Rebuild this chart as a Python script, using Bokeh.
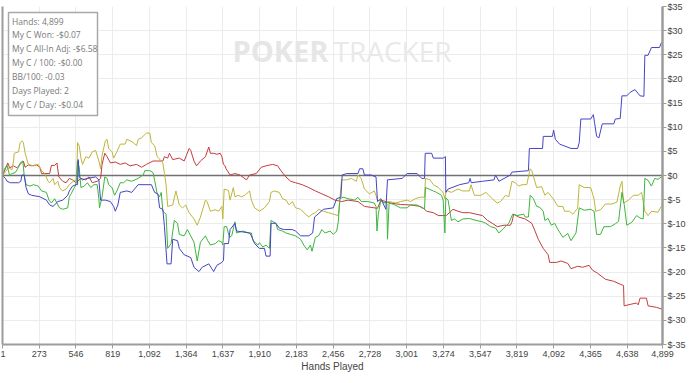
from bokeh.plotting import figure
from bokeh.models import Range1d, FixedTicker, LinearAxis, Span, BoxAnnotation, Label
from bokeh.embed import file_html
from bokeh.resources import INLINE

# ---------------- data ----------------
x_ticks = [1, 273, 546, 819, 1092, 1364, 1637, 1910, 2183, 2456, 2728, 3001,
           3274, 3547, 3819, 4092, 4365, 4638, 4899]
x_tick_labels = ["1", "273", "546", "819", "1,092", "1,364", "1,637", "1,910",
                 "2,183", "2,456", "2,728", "3,001", "3,274", "3,547", "3,819",
                 "4,092", "4,365", "4,638", "4,899"]
y_ticks = [-35, -30, -25, -20, -15, -10, -5, 0, 5, 10, 15, 20, 25, 30, 35]
y_tick_labels = ["$-35", "$-30", "$-25", "$-20", "$-15", "$-10", "$-5", "$0",
                 "$5", "$10", "$15", "$20", "$25", "$30", "$35"]

stats_lines = ["Hands: 4,899", "My C Won: -$0.07", "My C All-In Adj: -$6.58",
               "My C / 100: -$0.00", "BB/100: -0.03", "Days Played: 2",
               "My C / Day: -$0.04"]

# blue series
showdown_hands = [1,23,35,59,120,137,145,162,176,193,
    218,278,327,351,376,412,448,485,497,521,
    546,558,563,570,595,631,692,716,729,765,
    802,826,838,857,875,923,960,1008,1106,1130,
    1154,1167,1191,1203,1222,1252,1264,1300,1313,1349,
    1398,1422,1459,1483,1532,1568,1592,1629,1641,1646,
    1678,1690,1726,1738,1835,1848,1872,1908,1945,1957,
    1987,1994,2030,2055,2091,2152,2176,2213,2274,2303,
    2317,2383,2456,2481,2512,2522,2554,2639,2651,2675,
    2687,2736,2773,2784,2809,2846,2858,2967,3004,3077,
    3113,3133,3138,3186,3198,3271,3288,3291,3308,3393,
    3461,3471,3480,3563,3649,3660,3685,3770,3782,3904,
    3911,4009,4014,4082,4091,4104,4135,4220,4269,4281,
    4293,4366,4386,4396,4410,4427,4452,4537,4549,4585,
    4598,4634,4658,4695,4732,4761,4768,4792,4817,4877,
    4890,4899]
showdown_won = [0,-0.6,-1.2,-1.5,-1.5,-1.2,0.1,0.1,-2.5,-3.8,
    -4.1,-4.4,-5.1,-6.1,-6.4,-5.4,-5.1,-4.1,-3.2,-2.2,
    -1.9,-1.9,3.3,-0.3,-0.9,-0.6,-0.3,-0.9,-5.1,-5.1,
    -5.4,-6.4,-7.4,-6.1,-3.5,-3.2,-3.5,-1.9,-1.9,-3.5,
    -3.8,-6.7,-7.0,-10.6,-18.3,-18.3,-13.2,-13.5,-15.1,-16.4,
    -17.0,-19.0,-19.9,-19.0,-18.3,-19.9,-18.6,-18.0,-17.6,-14.1,
    -14.1,-11.2,-9.9,-11.5,-11.9,-12.5,-14.1,-15.1,-15.1,-16.7,
    -16.7,-9.9,-9.9,-10.9,-11.2,-11.2,-11.5,-12.5,-12.5,-11.9,
    -8.6,-7.0,-6.7,-4.8,-4.5,0.1,0.4,0.4,1.4,1.4,
    0.1,0.1,-0.3,-5.4,-4.8,-7.0,-0.9,-0.6,0.4,0.4,
    -0.6,-0.6,4.6,4.6,3.6,3.6,3.9,-3.5,-2.8,-1.9,
    -1.5,-0.6,-1.5,-1.2,-0.9,0.1,-1.2,0.1,0.7,1.0,
    5.6,5.6,8.1,8.1,9.4,7.5,6.5,5.6,5.6,6.8,
    11.7,11.7,12.6,10.7,8.1,7.8,10.7,10.7,11.7,11.8,
    16.5,16.5,17.2,17.8,16.5,16.4,24.9,24.9,26.5,26.5,
    27.5,27.6]

# red series
nonshowdown_hands = [1,23,40,54,83,108,132,156,169,193,
    218,254,278,291,351,364,388,405,419,448,
    473,497,521,546,583,619,643,667,704,729,
    740,760,777,802,838,875,911,948,996,1033,
    1069,1118,1154,1191,1203,1227,1240,1264,1313,1349,
    1386,1398,1422,1441,1470,1507,1532,1544,1568,1592,
    1617,1629,1641,1653,1660,1690,1726,1763,1812,1835,
    1884,1921,1957,2006,2043,2067,2104,2140,2176,2225,
    2274,2323,2371,2420,2468,2517,2566,2639,2687,2736,
    2784,2809,2846,2882,2955,3028,3101,3125,3149,3198,
    3235,3295,3344,3381,3417,3466,3515,3563,3600,3636,
    3673,3722,3770,3782,3795,3831,3880,3929,3953,3977,
    4014,4050,4062,4111,4147,4196,4220,4269,4306,4354,
    4379,4415,4476,4536,4585,4610,4614,4658,4707,4719,
    4732,4780,4792,4853,4899]
nonshowdown_won = [0,1.4,2.6,1.6,2.0,1.6,2.3,3.0,1.7,2.2,
    2.0,2.2,1.7,0.4,0.4,2.1,2.1,2.6,-0.3,-1.2,
    -1.5,-0.6,-0.9,-1.5,-0.6,-0.9,-0.3,-1.5,-1.2,-0.6,
    2.3,4.6,3.9,2.6,2.8,2.3,2.6,2.0,2.3,1.7,
    2.3,3.0,3.0,3.0,3.9,3.6,4.6,3.3,3.6,3.0,
    5.6,5.2,3.0,2.0,3.0,3.9,5.9,4.6,4.6,4.4,
    4.6,3.9,2.3,2.0,1.4,0.1,0.4,0.1,-0.9,0.1,
    0.4,1.7,2.0,2.3,2.0,1.0,-0.3,-1.2,-1.5,-1.9,
    -2.5,-3.2,-3.8,-4.4,-5.1,-5.4,-5.1,-5.4,-6.4,-6.6,
    -6.8,-5.1,-5.4,-5.7,-6.0,-6.1,-6.4,-6.8,-7.4,-7.7,
    -8.3,-8.3,-7.0,-7.4,-7.7,-7.7,-8.0,-8.3,-9.3,-9.9,
    -10.6,-10.3,-10.3,-9.6,-8.0,-8.6,-9.0,-9.9,-11.5,-13.2,
    -15.1,-16.4,-18.0,-18.0,-17.7,-18.2,-19.3,-18.8,-19.0,-18.6,
    -19.6,-20.2,-21.5,-21.9,-22.5,-22.8,-27.0,-26.7,-26.4,-26.8,
    -25.4,-25.4,-27.0,-27.3,-27.7]

# green series
won_hands = [1,16,35,54,72,96,120,132,152,162,
    176,205,230,266,291,327,346,364,388,412,
    424,448,485,497,510,534,546,558,570,583,
    607,631,656,680,704,716,721,740,760,777,
    789,814,833,850,875,899,923,960,1008,1045,
    1057,1094,1118,1130,1149,1167,1179,1191,1215,1227,
    1252,1276,1300,1313,1349,1373,1398,1422,1446,1470,
    1507,1524,1544,1580,1605,1629,1636,1646,1665,1685,
    1702,1726,1738,1787,1824,1848,1860,1897,1908,1933,
    1957,1982,1994,2030,2043,2079,2104,2140,2176,2213,
    2237,2262,2286,2298,2323,2347,2371,2395,2432,2456,
    2481,2493,2505,2529,2566,2615,2639,2663,2712,2760,
    2773,2780,2790,2809,2833,2853,2858,2870,2906,2955,
    3004,3028,3077,3113,3133,3140,3174,3198,3222,3259,
    3271,3284,3291,3308,3332,3357,3381,3417,3466,3515,
    3563,3588,3624,3660,3685,3722,3758,3787,3819,3868,
    3880,3904,3917,3941,3965,3989,4014,4026,4050,4074,
    4099,4123,4160,4196,4220,4257,4281,4318,4366,4391,
    4410,4439,4464,4512,4549,4573,4598,4615,4634,4671,
    4707,4732,4756,4768,4792,4817,4841,4865,4890,4899]
won_vals = [0,1.4,2.1,0,0.4,0.6,1.7,2.6,3.0,0,
    -1.9,-2.2,-1.9,-2.2,-3.2,-3.5,-5.1,-5.7,-4.8,-6.1,
    -6.7,-7.0,-6.7,-4.4,-3.8,-2.5,-1.9,3.0,1.7,-2.5,
    -2.2,-1.5,-2.5,-1.9,-1.9,-4.8,-6.7,-4.4,-0.3,-0.6,
    -1.9,-2.5,-4.1,-3.2,-1.5,-1.5,-0.9,-1.2,-0.6,0.1,
    1.0,1.0,0.6,-1.0,-3.8,-4.4,-3.5,-7.4,-8.0,-15.1,
    -14.1,-9.3,-9.9,-12.2,-12.5,-11.2,-12.5,-13.8,-17.7,-13.8,
    -12.5,-13.5,-14.4,-14.1,-13.5,-13.8,-14.4,-10.6,-10.6,-12.8,
    -12.5,-9.6,-11.9,-11.5,-11.9,-11.9,-13.5,-14.4,-13.9,-14.8,
    -14.4,-15.1,-9.3,-9.9,-11.2,-11.5,-11.9,-12.2,-12.5,-13.2,
    -14.4,-15.4,-14.4,-15.7,-12.8,-12.5,-11.2,-11.9,-11.5,-12.2,
    -11.5,-9.6,-4.8,-4.5,-4.8,-5.1,-4.5,-5.4,-5.4,-5.7,
    -6.4,-11.5,-8.0,-5.1,-5.7,-5.4,-13.2,-5.7,-6.0,-6.7,
    -6.7,-6.1,-6.1,-6.7,-6.9,-2.5,-2.9,-3.2,-3.5,-4.1,
    -5.1,-11.9,-4.6,-5.1,-9.3,-9.0,-9.6,-9.0,-8.9,-9.3,
    -9.6,-9.9,-10.6,-10.9,-11.9,-10.9,-9.9,-8.0,-8.3,-8.0,
    -8.6,-8.6,-4.1,-4.8,-6.4,-6.6,-7.4,-9.3,-8.9,-10.3,
    -9.9,-11.2,-12.8,-12.0,-13.5,-11.9,-6.7,-7.2,-7.0,-7.4,
    -12.2,-12.2,-10.6,-10.6,-10.0,-9.5,-3.5,-6.0,-10.3,-9.7,
    -8.3,-8.8,-9.0,-0.6,-1.0,-2.2,-0.6,-0.8,-0.3,0]

# olive series
allin_hands = [1,23,47,72,83,88,120,132,145,156,
    169,193,230,266,291,315,339,351,376,388,
    412,424,448,473,497,534,552,558,570,583,
    595,619,643,667,692,716,729,740,765,777,
    789,814,826,850,875,911,923,948,972,996,
    1008,1033,1069,1094,1106,1130,1149,1179,1191,1203,
    1215,1227,1264,1288,1313,1337,1361,1386,1422,1446,
    1470,1507,1519,1544,1580,1605,1629,1636,1646,1678,
    1690,1714,1726,1751,1775,1799,1835,1848,1872,1908,
    1945,1982,1994,2018,2055,2079,2104,2128,2152,2176,
    2213,2249,2274,2298,2323,2347,2383,2420,2456,2493,
    2505,2517,2554,2590,2627,2639,2663,2687,2724,2760,
    2773,2784,2821,2846,2870,2919,2955,3004,3028,3065,
    3101,3133,3140,3174,3198,3235,3271,3284,3295,3332,
    3381,3417,3466,3478,3503,3551,3588,3636,3673,3697,
    3734,3758,3782,3807,3831,3856,3892,3917,3929,3965,
    4002,4026,4050,4087,4123,4160,4172,4209,4233,4269,
    4281,4318,4366,4391,4403,4439,4476,4525,4561,4585,
    4598,4610,4646,4683,4719,4744,4768,4792,4817,4865,
    4890,4899]
allin_vals = [0,0.8,1.6,1.2,3.0,4.6,4.9,6.8,7.2,6.8,
    4.6,2.3,2.0,2.3,1.0,0.4,-1.2,-1.5,-0.6,-1.9,
    -1.2,-2.5,-3.2,-2.8,-1.9,-1.0,-0.9,6.8,6.2,3.6,
    2.3,3.9,3.6,4.9,5.2,3.0,1.4,4.2,7.2,7.5,
    5.6,4.9,3.6,4.9,6.5,6.5,7.5,7.2,6.8,6.2,
    7.5,7.8,8.8,8.8,6.8,6.2,3.9,3.0,2.6,0.4,
    -1.9,-6.4,-6.1,-3.2,-6.1,-6.7,-6.1,-7.7,-9.0,-10.3,
    -8.6,-5.1,-5.4,-7.4,-7.1,-7.4,-6.4,-9.0,-2.8,-3.1,
    -5.1,-2.5,-4.4,-4.1,-4.4,-4.1,-3.2,-5.1,-6.7,-7.4,
    -6.7,-5.4,-3.5,-3.2,-3.5,-4.8,-5.1,-6.1,-5.4,-6.7,
    -7.0,-8.0,-8.6,-8.0,-7.7,-7.0,-7.4,-7.7,-8.0,-8.3,
    -4.8,-0.9,-0.9,-0.6,-1.2,0.1,-0.6,-2.8,-3.8,-3.2,
    -4.1,-5.1,-5.4,-5.7,-5.4,-5.7,-5.4,-5.1,-5.4,-4.8,
    -4.5,-4.5,-0.6,-0.9,-1.9,-2.5,-3.5,-4.8,-3.1,-3.5,
    -2.8,-3.2,-3.2,-1.9,-4.1,-4.1,-3.5,-4.8,-5.7,-5.4,
    -4.1,-4.4,-1.2,-1.5,-2.2,-1.9,-1.9,1.4,1.0,-2.5,
    -2.3,-4.1,-3.5,-4.8,-6.4,-6.4,-7.4,-7.4,-8.0,-6.8,
    -1.9,-2.5,-2.5,-4.8,-7.4,-7.1,-5.9,-5.9,-5.5,-2.2,
    -1.2,-5.7,-5.1,-4.1,-4.1,-3.5,-7.4,-8.3,-7.4,-7.6,
    -6.4,-6.5]

# ---------------- figure ----------------
FW, FH = 660, 338
X0, X1 = 1, 4899
Y0, Y1 = -35, 35
xpp = (X1 - X0) / FW   # hands per pixel
ypp = (Y1 - Y0) / FH   # dollars per pixel

p = figure(frame_width=FW, frame_height=FH,
           x_range=Range1d(X0, X1), y_range=Range1d(Y0, Y1),
           output_backend="svg", toolbar_location=None,
           y_axis_location="right",
           min_border_left=2, min_border_right=0,
           min_border_top=6, min_border_bottom=0)
p.outline_line_color = None
p.background_fill_color = "white"
p.border_fill_color = "white"

axis_gray = "#9c9c9c"
label_color = "#444444"

xticker = FixedTicker(ticks=x_ticks)
yticker = FixedTicker(ticks=y_ticks)

xa = p.xaxis[0]
xa.ticker = xticker
xa.major_label_overrides = {t: s for t, s in zip(x_ticks, x_tick_labels)}
xa.minor_tick_line_color = None
xa.axis_line_color = axis_gray
xa.axis_line_width = 2
xa.major_tick_line_color = axis_gray
xa.major_tick_out = 4
xa.major_tick_in = 0
xa.major_label_text_font = "Liberation Sans"
xa.major_label_text_font_size = "9px"
xa.major_label_text_color = label_color
xa.major_label_standoff = 2
xa.axis_label = "Hands Played"
xa.axis_label_text_font = "Liberation Sans"
xa.axis_label_text_font_style = "normal"
xa.axis_label_text_font_size = "10px"
xa.axis_label_text_color = label_color
xa.axis_label_standoff = 1

ya = p.yaxis[0]
ya.ticker = yticker
ya.major_label_overrides = {t: s for t, s in zip(y_ticks, y_tick_labels)}
ya.minor_tick_line_color = None
ya.axis_line_color = axis_gray
ya.axis_line_width = 2.5
ya.major_tick_line_color = axis_gray
ya.major_tick_out = 4
ya.major_tick_in = 0
ya.major_label_text_font = "Liberation Sans"
ya.major_label_text_font_size = "9px"
ya.major_label_text_color = label_color
ya.major_label_standoff = 1

left_axis = LinearAxis(ticker=FixedTicker(ticks=[]),
                       major_label_text_font_size="0px",
                       major_tick_line_color=None,
                       minor_tick_line_color=None,
                       axis_line_color=axis_gray, axis_line_width=2)
p.add_layout(left_axis, "left")

p.xgrid.ticker = xticker
p.ygrid.ticker = yticker
p.xgrid.grid_line_color = "#ececec"
p.ygrid.grid_line_color = "#ececec"

# watermark
cx = (X0 + X1) / 2
wy = Y1 - 44 * ypp
p.add_layout(Label(x=cx - 4 * xpp, y=wy, text="POKER", text_align="right",
                   text_baseline="alphabetic", text_font="Open Sans",
                   text_font_style="bold", text_font_size="29px",
                   text_color="#e6e6e6", level="underlay"))
p.add_layout(Label(x=cx + 1 * xpp, y=wy, text="TRACKER", text_align="left",
                   text_baseline="alphabetic", text_font="Open Sans",
                   text_font_size="28px", text_color="#e9e9e9",
                   level="underlay"))

p.add_layout(Span(location=0, dimension="width", line_color="#707070",
                  line_width=1.5, level="underlay"))

def add_series(h, v, color):
    n = min(len(h), len(v))
    p.line(h[:n], v[:n], line_color=color, line_width=1.0)

add_series(nonshowdown_hands, nonshowdown_won, "#c43c3c")
add_series(allin_hands, allin_vals, "#bdb53a")
add_series(won_hands, won_vals, "#3db43d")
add_series(showdown_hands, showdown_won, "#4444c4")

# stats box
p.add_layout(BoxAnnotation(left=X0 + 6 * xpp, right=X0 + 95 * xpp,
                           top=Y1 - 6 * ypp, bottom=Y1 - 109 * ypp,
                           fill_color="white", fill_alpha=1.0,
                           line_color="#a8a8a8", line_width=1.5,
                           line_alpha=1.0))
for i, s in enumerate(stats_lines):
    p.add_layout(Label(x=X0 + 9.5 * xpp, y=Y1 - (14.5 + 13.85 * i) * ypp,
                       text=s, text_baseline="middle", text_align="left",
                       text_font="Open Sans", text_font_size="8.5px",
                       text_color="#7a7a7a"))

open("out.html", "w").write(file_html(p, INLINE))
